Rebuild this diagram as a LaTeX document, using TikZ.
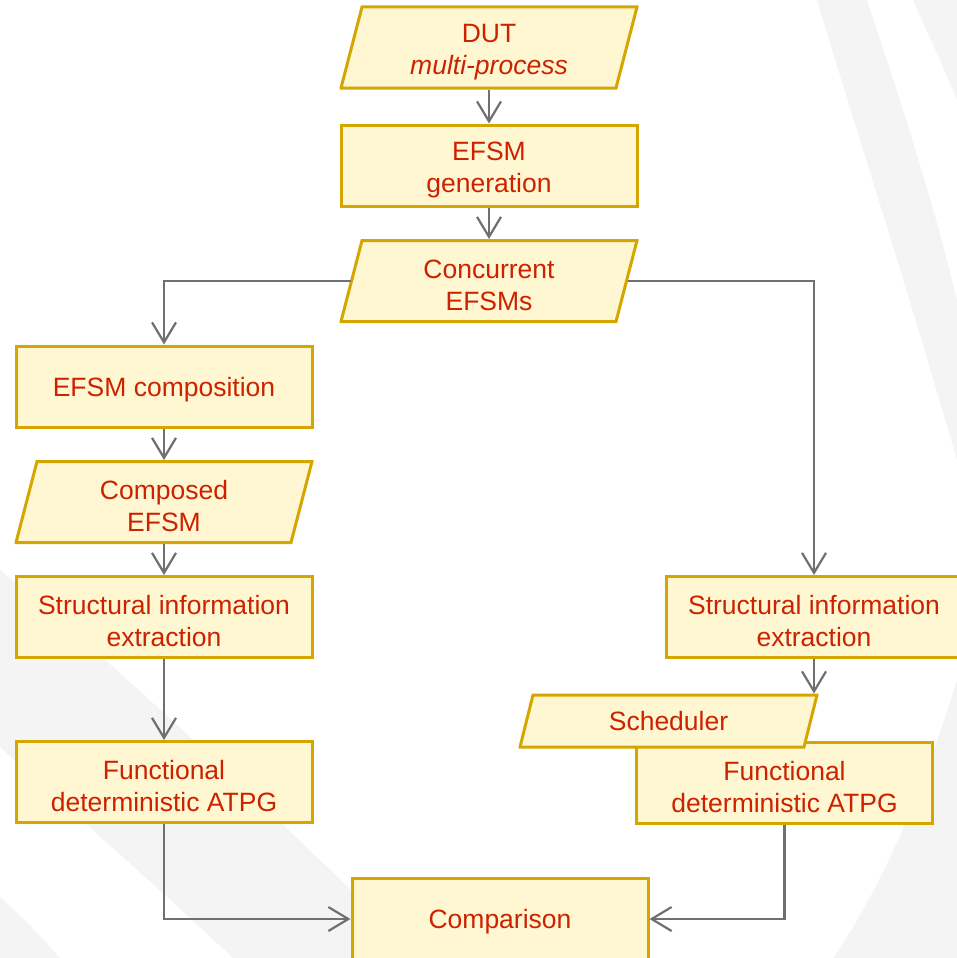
\documentclass[tikz,border=0pt]{standalone}
\usepackage{fontspec}
\setmainfont{Liberation Sans}
\usetikzlibrary{arrows.meta}
\definecolor{boxfill}{RGB}{255,247,210}
\definecolor{boxline}{RGB}{214,166,0}
\definecolor{txt}{RGB}{204,34,0}
\definecolor{arr}{RGB}{112,112,112}
\definecolor{wm}{RGB}{244,244,244}
\newcommand\toplinestrut{\rule{0pt}{28pt}}
\newcommand\onelinestrut{\rule{0pt}{25pt}}
\tikzset{paraslant/.store in=\paraslantval, paraslant=21pt}
\begin{document}
\begin{tikzpicture}[x=1pt,y=-1pt,
  base/.style={text=txt,font=\fontsize{26.5}{32}\selectfont,align=center,inner sep=2pt},
  proc/.style={base,rectangle,fill=boxfill,draw=boxline,line width=3pt,
    minimum width=296pt,minimum height=81pt},
  data/.style={base,rectangle,outer sep=0pt,minimum width=299pt,minimum height=84pt,
    path picture={
      \draw[fill=boxfill,draw=boxline,line width=3pt]
        ([shift={(1.5pt,1.5pt)}]path picture bounding box.south west) --
        ([shift={(-1.5pt-\paraslantval,1.5pt)}]path picture bounding box.south east) --
        ([shift={(-1.5pt,-1.5pt)}]path picture bounding box.north east) --
        ([shift={(1.5pt+\paraslantval,-1.5pt)}]path picture bounding box.north west) -- cycle;
    }},
  flow/.style={draw=arr,line width=2.2pt,-{Straight Barb[length=20pt,width=24pt,line width=2.2pt]}}
]
\useasboundingbox (0,0) rectangle (957,958);
\clip (0,0) rectangle (957,958);
\fill[white] (0,0) rectangle (957,958);
% faint watermark
\fill[wm] (817,0) .. controls (850,110) and (905,280) .. (957,460) -- (957,300) .. controls (930,190) and (900,100) .. (867,0) -- cycle;
\fill[wm] (913,0) -- (957,0) -- (957,100) .. controls (940,60) .. (913,0) -- cycle;
\fill[wm] (957,680) .. controls (920,800) and (880,890) .. (833,958) -- (957,958) -- cycle;
\fill[wm] (0,570) .. controls (110,660) and (250,790) .. (420,958) -- (233,958) .. controls (150,880) and (70,810) .. (0,747) -- cycle;
\fill[wm] (0,897) .. controls (30,925) .. (60,958) -- (0,958) -- cycle;

\node[data] (dut) at (489,47.5) {\toplinestrut DUT\\\textit{multi-process}};
\node[proc] (gen) at (489,165.5) {\toplinestrut EFSM\\generation};
\node[data] (conc) at (489,281) {\toplinestrut Concurrent\\EFSMs};
\node[proc] (compo) at (164,386.5) {\onelinestrut EFSM composition};
\node[data] (cefsm) at (164,502) {\toplinestrut Composed\\EFSM};
\node[proc] (sl) at (164,617) {\toplinestrut Structural information\\extraction};
\node[proc] (fl) at (164,782) {\toplinestrut Functional\\deterministic ATPG};
\node[proc] (sr) at (814,617) {\toplinestrut Structural information\\extraction};
\node[proc] (fr) at (784.5,783) {\toplinestrut Functional\\deterministic ATPG};
\node[data,paraslant=13pt,minimum width=300pt,minimum height=55pt] (sched) at (668.5,721) {Scheduler};
\node[proc] (cmp) at (500,919) {\onelinestrut Comparison};

\draw[flow] (dut) -- (gen);
\draw[flow] (gen) -- (conc);
\draw[flow] ([xshift=11pt]conc.west) -| (compo.north);
\draw[flow] ([xshift=-11pt]conc.east) -| (sr.north);
\draw[flow] (compo) -- (cefsm);
\draw[flow] (cefsm) -- (sl);
\draw[flow] (sl) -- (fl);
\draw[flow] (sr.south) -- (sr.south |- sched.north);
\draw[flow] (fl.south) |- (cmp.west);
\draw[flow] (fr.south) |- (cmp.east);
\end{tikzpicture}
\end{document}
